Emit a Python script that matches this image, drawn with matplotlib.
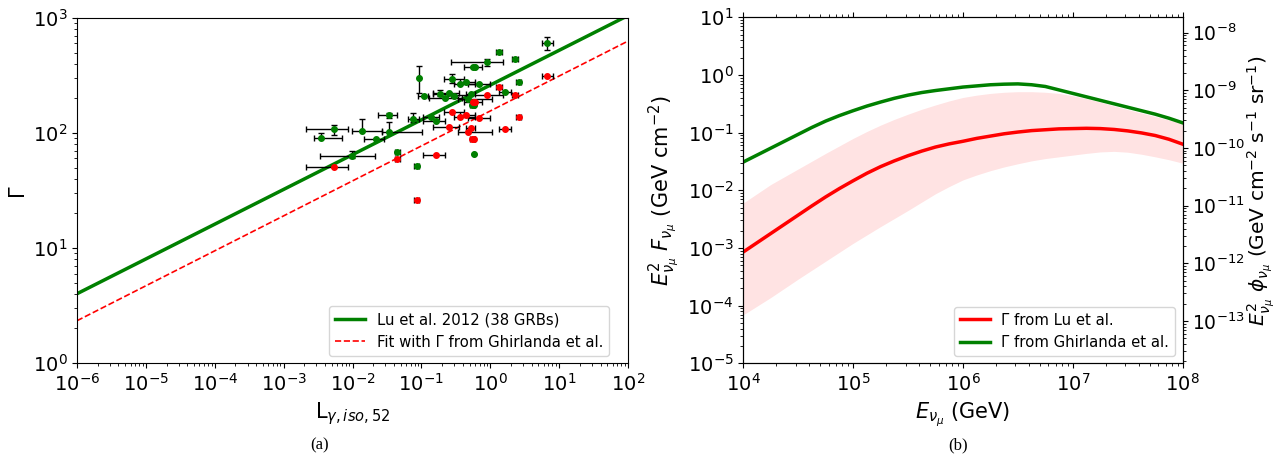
import numpy as np
import matplotlib.pyplot as plt

# ---- panel (a): Gamma vs L_gamma,iso,52 ----
L    = np.array([6.7, 1.35, 2.30, 0.90, 0.57, 0.61, 0.093, 0.28, 2.58, 0.44, 0.36, 0.69, 1.64,
                 0.186, 0.25, 0.30, 0.11, 0.22, 0.52, 0.48, 0.55, 0.58, 0.034, 0.076, 0.139,
                 0.162, 0.0053, 0.0138, 0.034, 0.00352, 0.0219, 0.045, 0.0098, 0.59, 0.085])
L_lo = np.array([5.6, 1.23, 2.10, 0.27, 0.41, 0.61, 0.093, 0.21, 2.36, 0.36, 0.30, 0.48, 1.35,
                 0.147, 0.148, 0.30, 0.090, 0.127, 0.45, 0.342, 0.50, 0.58, 0.0234, 0.064, 0.105,
                 0.106, 0.0021, 0.0099, 0.0264, 0.00278, 0.0147, 0.041, 0.00337, 0.59, 0.078])
L_hi = np.array([8.1, 1.48, 2.52, 1.54, 0.75, 0.61, 0.093, 0.42, 2.82, 0.60, 0.60, 1.00, 1.97,
                 0.245, 0.354, 0.30, 0.126, 0.39, 0.60, 1.07, 0.60, 0.58, 0.0437, 0.091, 0.178,
                 0.219, 0.0087, 0.0264, 0.1007, 0.00695, 0.0288, 0.049, 0.0211, 0.59, 0.092])
G_lu    = np.array([603, 502, 437, 412, 373, 373, 301, 297, 276, 279, 265, 265, 227,
                    220, 223, 211, 208, 200, 220, 196, 174, 174, 143, 132, 137,
                    127, 108, 103.5, 101, 91, 88, 69, 63, 65, 52])
G_lu_lo = np.array([527, 502, 437, 385, 373, 373, 221, 271, 276, 279, 265, 265, 227,
                    211, 223, 211, 208, 200, 220, 196, 174, 174, 136, 125, 137,
                    127, 97, 103.5, 101, 91, 88, 69, 60, 65, 52])
G_lu_hi = np.array([679, 502, 437, 440, 373, 373, 383, 324, 276, 279, 265, 265, 227,
                    235, 223, 211, 208, 200, 220, 196, 174, 174, 150, 150, 137,
                    127, 117, 133, 125, 100.6, 88, 69, 70, 65, 52])
G_gh = np.array([313, 253, 214, 214, 187, 187, np.nan, 153, 138, 143, 137, 134, 109,
                 np.nan, 113, np.nan, np.nan, np.nan, 111, 101, 89, 89, np.nan, np.nan, np.nan,
                 64, 50.3, np.nan, np.nan, np.nan, np.nan, 59.4, np.nan, np.nan, 26])

fit_L = [1e-6, 1e2]
fit_lu = [4.0, 1050]
fit_gh = [2.33, 630]

# ---- panel (b): neutrino spectra (log10 values) ----
logE = [4.0, 4.125, 4.25, 4.375, 4.5, 4.625, 4.75, 4.875, 5.0, 5.125, 5.25, 5.375, 5.5,
        5.625, 5.75, 5.875, 6.0, 6.125, 6.25, 6.375, 6.5, 6.625, 6.75, 6.875, 7.0,
        7.125, 7.25, 7.375, 7.5, 7.625, 7.75, 7.875, 8.0]
log_gh = [-1.51, -1.39, -1.27, -1.15, -1.03, -0.91, -0.80, -0.705, -0.62, -0.54, -0.47, -0.405, -0.35,
          -0.305, -0.27, -0.24, -0.21, -0.19, -0.17, -0.16, -0.155, -0.17, -0.20, -0.26, -0.32,
          -0.38, -0.44, -0.50, -0.56, -0.62, -0.68, -0.75, -0.83]
log_lu = [-3.07, -2.91, -2.75, -2.59, -2.43, -2.27, -2.115, -1.97, -1.835, -1.705, -1.59, -1.49, -1.40,
          -1.32, -1.25, -1.195, -1.15, -1.10, -1.06, -1.02, -0.99, -0.965, -0.95, -0.935, -0.93,
          -0.925, -0.93, -0.945, -0.97, -1.005, -1.05, -1.115, -1.20]
log_lu_hi = [-2.22, -2.06, -1.90, -1.765, -1.63, -1.495, -1.36, -1.23, -1.10, -0.98, -0.87, -0.77, -0.68,
             -0.595, -0.52, -0.45, -0.39, -0.35, -0.32, -0.30, -0.29, -0.29, -0.30, -0.32, -0.36,
             -0.41, -0.47, -0.535, -0.60, -0.66, -0.72, -0.78, -0.84]
log_lu_lo = [-4.16, -4.01, -3.86, -3.70, -3.54, -3.385, -3.23, -3.075, -2.92, -2.775, -2.63, -2.49, -2.35,
             -2.205, -2.06, -1.935, -1.82, -1.735, -1.66, -1.595, -1.54, -1.49, -1.45, -1.42, -1.39,
             -1.36, -1.335, -1.325, -1.34, -1.375, -1.42, -1.47, -1.53]
to_phi = 1.84e-9

E = 10.0**np.array(logE)

fig = plt.figure(figsize=(12.83, 4.62), dpi=100)

ax = fig.add_axes([0.060, 0.2143, 0.4295, 0.7468])
ax.plot(fit_L, fit_lu, color='green', lw=2.5, label='Lu et al. 2012 (38 GRBs)')
ax.plot(fit_L, fit_gh, color='red', lw=1.2, ls='--', label='Fit with Γ from Ghirlanda et al.')
ax.errorbar(L, G_lu, xerr=[L - L_lo, L_hi - L], yerr=[G_lu - G_lu_lo, G_lu_hi - G_lu],
            fmt='o', color='green', ecolor='black', elinewidth=1, capsize=2, markersize=4)
m = ~np.isnan(G_gh)
ax.errorbar(L[m], G_gh[m], xerr=[L[m] - L_lo[m], L_hi[m] - L[m]],
            fmt='o', color='red', ecolor='black', elinewidth=1, capsize=2, markersize=4)
ax.set_xscale('log')
ax.set_yscale('log')
ax.set_xlim(1e-6, 1e2)
ax.set_ylim(1, 1e3)
ax.set_xticks([10.0**k for k in range(-6, 3)])
ax.tick_params(labelsize=14)
ax.set_xlabel(r'L$_{\gamma, iso, 52}$', fontsize=15)
ax.set_ylabel('Γ', fontsize=15)
ax.yaxis.set_label_coords(-0.091, 0.5)
ax.legend(loc='lower right', bbox_to_anchor=(0.979, 0), fontsize=10.7)

bx = fig.add_axes([0.5793, 0.2136, 0.3425, 0.749])
bx.fill_between(E, 10.0**np.array(log_lu_lo), 10.0**np.array(log_lu_hi), color='red', alpha=0.11, lw=0)
bx.plot(E, 10.0**np.array(log_lu), color='red', lw=2.5, label='Γ from Lu et al.')
bx.plot(E, 10.0**np.array(log_gh), color='green', lw=2.5, label='Γ from Ghirlanda et al.')
bx.set_xscale('log')
bx.set_yscale('log')
bx.set_xlim(1e4, 1e8)
bx.set_ylim(1e-5, 1e1)
bx.set_yticks([10.0**k for k in range(-5, 2)])
bx.tick_params(which='both', top=True, labelsize=14)
bx.set_xlabel(r'$E_{\nu_\mu}$ (GeV)', fontsize=15)
bx.set_ylabel(r'$E_{\nu_\mu}^2\ F_{\nu_\mu}$ (GeV cm$^{-2}$)', fontsize=15)
bx.legend(loc='lower right', fontsize=10.7)

bx2 = bx.twinx()
bx2.set_yscale('log')
bx2.set_ylim(1e-5 * to_phi, 1e1 * to_phi)
bx2.set_yticks([10.0**k for k in range(-13, -7)])
bx2.tick_params(labelsize=13.5)
bx2.set_ylabel(r'$E_{\nu_\mu}^2\ \phi_{\nu_\mu}$ (GeV cm$^{-2}$ s$^{-1}$ sr$^{-1}$)', fontsize=14.5)
bx2.yaxis.set_label_coords(1.142, 0.5)

fig.text(0.249, 0.037, '(a)', ha='center', va='center', fontsize=12, family='Liberation Serif')
fig.text(0.747, 0.037, '(b)', ha='center', va='center', fontsize=12, family='Liberation Serif')

fig.savefig('out.png', dpi=100)
